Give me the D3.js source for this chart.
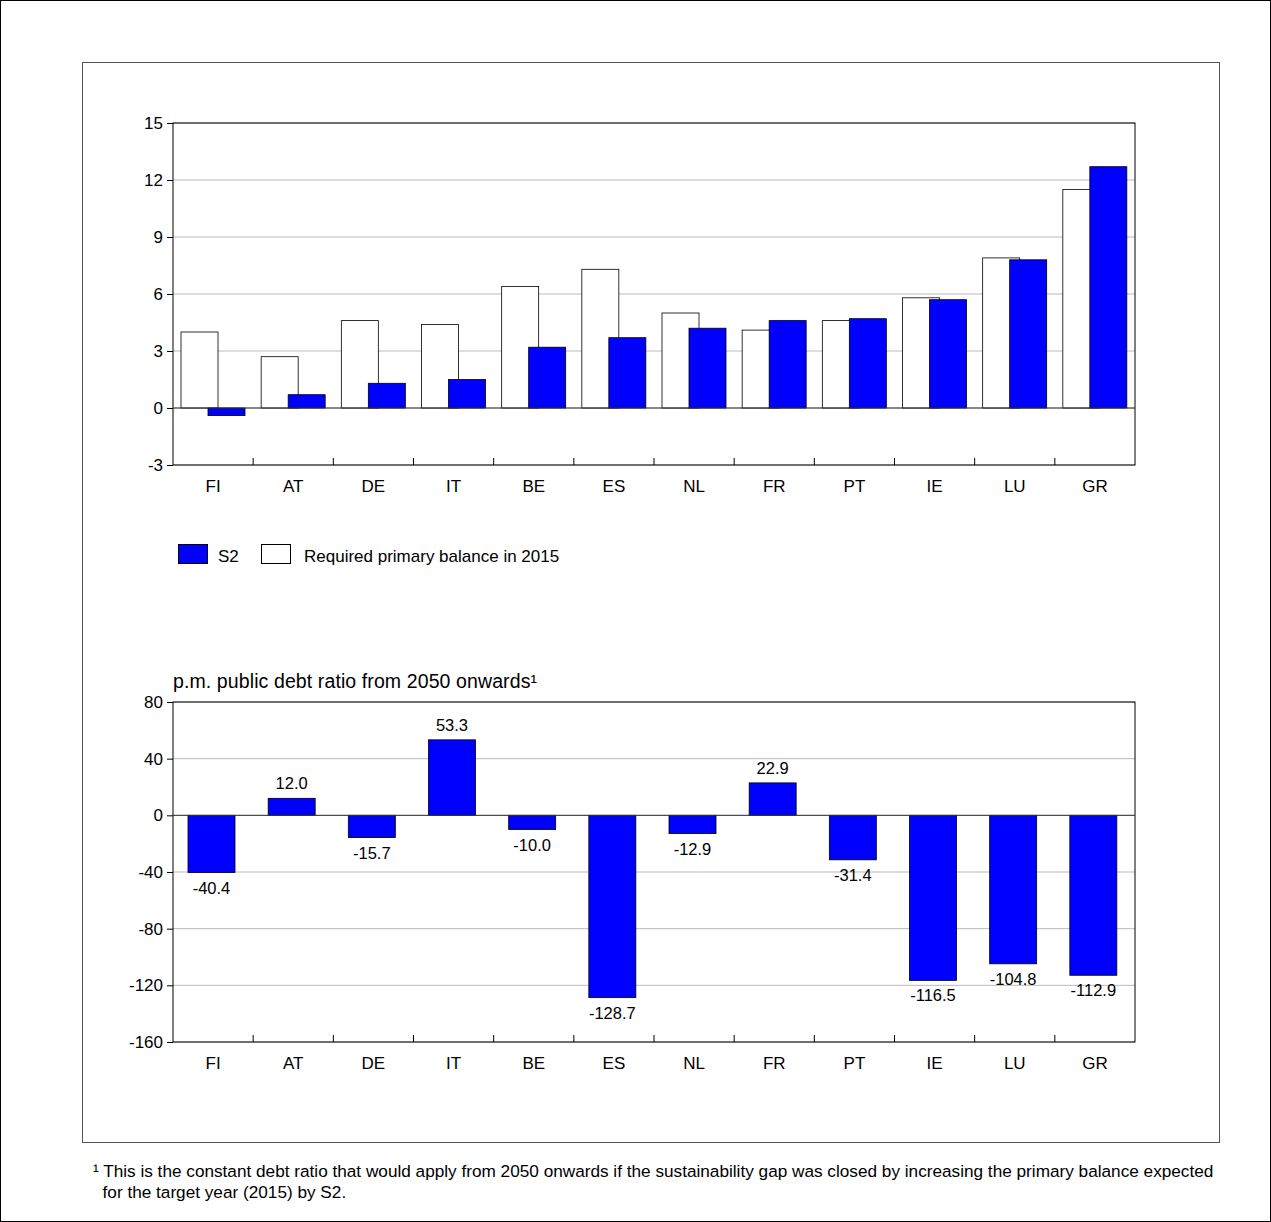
<!DOCTYPE html>
<html><head><meta charset="utf-8">
<script src="https://cdn.jsdelivr.net/npm/d3@7"></script>
<style>body{margin:0;background:#fff}text{font-family:Arial,"Liberation Sans",sans-serif}</style>
</head><body><svg id="c" width="1271" height="1222"></svg>
<script>
const countries = ["FI","AT","DE","IT","BE","ES","NL","FR","PT","IE","LU","GR"]
const s2 = [-0.4,0.7,1.3,1.5,3.2,3.7,4.2,4.6,4.7,5.7,7.8,12.7]
const required = [4.0,2.7,4.6,4.4,6.4,7.3,5.0,4.1,4.6,5.8,7.9,11.5]
const debtRatio = [-40.4,12.0,-15.7,53.3,-10.0,-128.7,-12.9,22.9,-31.4,-116.5,-104.8,-112.9]
const topTicks = [-3,0,3,6,9,12,15]
const botTicks = [-160,-120,-80,-40,0,40,80]

const fs = 17
const svg = d3.select("#c")
svg.append("rect").attr("x",0.5).attr("y",0.5).attr("width",1270).attr("height",1221).attr("fill","none").attr("stroke","#000")
svg.append("rect").attr("x",82.5).attr("y",62.5).attr("width",1137).attr("height",1080).attr("fill","none").attr("stroke","#555")

const x = d3.scaleBand().domain(countries).range([173,1135])

function panel(y, ticks){
  svg.append("g").selectAll("line").data(ticks).join("line")
    .attr("x1",173).attr("x2",1135).attr("y1",d=>y(d)).attr("y2",d=>y(d))
    .attr("stroke","#bbb")
  let yr = y.range()
  svg.append("rect").attr("x",173).attr("y",yr[1]).attr("width",962).attr("height",yr[0]-yr[1])
    .attr("fill","none").attr("stroke","#000")
  svg.append("g").attr("transform","translate(173,0)")
    .call(d3.axisLeft(y).tickValues(ticks).tickSize(6).tickPadding(4).tickFormat(d=>String(d)))
    .call(g=>{g.select(".domain").remove();g.selectAll("text").attr("font-size",fs).attr("fill","#000")})
  svg.append("g").selectAll("line").data(countries.slice(1)).join("line")
    .attr("x1",d=>x(d)).attr("x2",d=>x(d)).attr("y1",yr[0]).attr("y2",yr[0]-7).attr("stroke","#000")
  svg.append("g").selectAll("text").data(countries).join("text")
    .attr("x",d=>x(d)+x.bandwidth()/2).attr("y",yr[0]+27).attr("text-anchor","middle")
    .attr("font-size",fs).text(d=>d)
}

// top chart
const y1 = d3.scaleLinear().domain([-3,15]).range([465,123])
panel(y1, topTicks)
svg.append("g").selectAll("rect").data(required).join("rect")
  .attr("x",(d,i)=>x(countries[i])+8).attr("width",37)
  .attr("y",d=>y1(Math.max(0,d))).attr("height",d=>Math.abs(y1(d)-y1(0)))
  .attr("fill","#fff").attr("stroke","#000").attr("stroke-width",0.8)
svg.append("g").selectAll("rect").data(s2).join("rect")
  .attr("x",(d,i)=>x(countries[i])+35).attr("width",37)
  .attr("y",d=>y1(Math.max(0,d))).attr("height",d=>Math.abs(y1(d)-y1(0)))
  .attr("fill","#0000ff").attr("stroke","#000").attr("stroke-width",0.8)
svg.append("line").attr("x1",173).attr("x2",1135).attr("y1",y1(0)).attr("y2",y1(0)).attr("stroke","#333")

// legend
svg.append("rect").attr("x",178.5).attr("y",544.5).attr("width",29).attr("height",19).attr("fill","#0000ff").attr("stroke","#000")
svg.append("text").attr("x",218).attr("y",562).attr("font-size",fs).text("S2")
svg.append("rect").attr("x",261.5).attr("y",544.5).attr("width",29).attr("height",19).attr("fill","#fff").attr("stroke","#000")
svg.append("text").attr("x",304).attr("y",562).attr("font-size",fs).text("Required primary balance in 2015")

// bottom chart
const y2 = d3.scaleLinear().domain([-160,80]).range([1042,702])
panel(y2, botTicks)
svg.append("text").attr("x",173).attr("y",688).attr("font-size",19.5)
  .attr("textLength",364).text("p.m. public debt ratio from 2050 onwards¹")
svg.append("g").selectAll("rect").data(debtRatio).join("rect")
  .attr("x",(d,i)=>x(countries[i])+15).attr("width",47)
  .attr("y",d=>y2(Math.max(0,d))).attr("height",d=>Math.abs(y2(d)-y2(0)))
  .attr("fill","#0000ff").attr("stroke","#000").attr("stroke-width",0.8)
svg.append("g").selectAll("text").data(debtRatio).join("text")
  .attr("x",(d,i)=>x(countries[i])+38.5).attr("y",d=>d>=0?y2(d)-9:y2(d)+21)
  .attr("text-anchor","middle").attr("font-size",16.5).text(d=>d.toFixed(1))
svg.append("line").attr("x1",173).attr("x2",1135).attr("y1",y2(0)).attr("y2",y2(0)).attr("stroke","#333")

svg.append("text").attr("x",93).attr("y",1177).attr("font-size",17.2)
  .text("¹ This is the constant debt ratio that would apply from 2050 onwards if the sustainability gap was closed by increasing the primary balance expected")
svg.append("text").attr("x",93).attr("y",1198).attr("font-size",17.2)
  .text("  for the target year (2015) by S2.").style("white-space","pre")
</script></body></html>
